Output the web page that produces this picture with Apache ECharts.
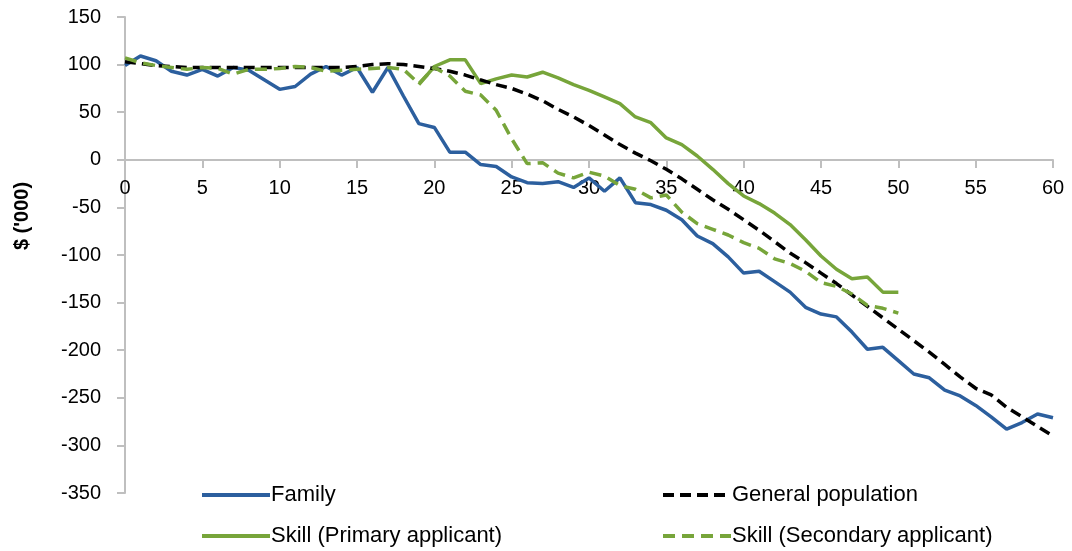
<!DOCTYPE html>
<html>
<head>
<meta charset="utf-8">
<script src="https://cdn.jsdelivr.net/npm/echarts@6/dist/echarts.min.js"></script>
<style>
html, body { margin: 0; padding: 0; background: #fff; }
#chart { width: 1072px; height: 551px; }
</style>
</head>
<body>
<div id="chart"></div>
<script>
// ages / years on x, values in $'000
let familyStart = 0
let family = [99,109,104,93,89,95,88,97,94,84,
    74,77,90,98,89,97,71,97,67,38,
    34,8,8,-5,-7,-18,-24,-25,-23,-29,
    -19,-33,-19,-45,-47,-53,-63,-80,-88,-102,
    -119,-117,-128,-139,-155,-162,-165,-181,-199,-197,
    -211,-225,-229,-242,-248,-258,-270,-283,-276,-267,-271]

let generalStart = 0
let general = [103,101,99,98,97,97,97,97,97,97,
    97,97,97,97,97,98,100,101,100,98,
    96,93,89,84,79,75,69,62,53,45,
    36,26,16,7,-1,-10,-20,-31,-42,-52,
    -63,-74,-86,-98,-108,-119,-130,-142,-154,-166,
    -178,-190,-202,-215,-228,-240,-247,-260,-270,-280,-290]

let primaryStart = 19
let primary = [79,98,105,105,80,85,89,87,92,86,
    79,73,66,59,45,39,23,16,4,-10,
    -25,-38,-46,-56,-68,-84,-101,-115,-125,-123,
    -139,-139]

let secondaryStart = 0
let secondary = [107,102,99,97,95,97,96,90,95,95,
    96,98,97,93,94,95,96,97,95,80,
    97,88,72,68,52,22,-4,-3,-14,-19,
    -13,-17,-27,-31,-40,-37,-55,-67,-73,-79,
    -87,-93,-104,-109,-117,-129,-133,-141,-153,-156,-161]

let seriesNames = ["Family", "General population", "Skill (Primary applicant)", "Skill (Secondary applicant)"]

function pairs(start, arr) {
    return arr.map(function (v, i) { return [start + i, v] })
}

let axisGrey = '#BFBFBF'
let font = 'Liberation Sans, Arial, sans-serif'
let blue = '#2C5F9E'
let green = '#77A53A'

// plot area (px) - y=0 sits 333px above the bottom edge
let gridTop = 17
let gridBottom = 58
let zeroOffset = -333

let lineChart = echarts.init(document.getElementById('chart'))

function legendAt(name, left, top) {
    return {
        data: [name],
        left: left,
        top: top,
        padding: 0,
        itemWidth: 68,
        itemHeight: 14,
        itemGap: 0,
        itemStyle: { opacity: 0 },
        lineStyle: { width: 4 },
        textStyle: { fontFamily: font, fontSize: 22, color: '#000', padding: [0, 0, 0, -4] },
    }
}

lineChart.setOption({
    animation: false,
    grid: { left: 125, right: 19, top: gridTop, bottom: gridBottom },
    legend: [
        legendAt(seriesNames[0], 200, 484),
        legendAt(seriesNames[1], 661, 484),
        legendAt(seriesNames[2], 200, 525),
        legendAt(seriesNames[3], 661, 525),
    ],
    graphic: [{
        type: 'text',
        x: 22,
        y: 216,
        rotation: Math.PI / 2,
        style: {
            text: "$ ('000)",
            fontFamily: font,
            fontSize: 20,
            fontWeight: 'bold',
            fill: '#000',
            textAlign: 'center',
            textVerticalAlign: 'middle',
        },
    }],
    xAxis: {
        type: 'value',
        min: 0,
        max: 60,
        interval: 5,
        position: 'bottom',
        offset: zeroOffset,
        axisLine: { onZero: false, lineStyle: { color: axisGrey, width: 2 } },
        axisTick: { show: true, length: 8, lineStyle: { color: axisGrey, width: 2 } },
        axisLabel: { fontFamily: font, fontSize: 20, color: '#000', margin: 18 },
        splitLine: { show: false },
    },
    yAxis: {
        type: 'value',
        min: -350,
        max: 150,
        interval: 50,
        axisLine: { show: true, lineStyle: { color: axisGrey, width: 2 } },
        axisTick: { show: true, length: 8, lineStyle: { color: axisGrey, width: 2 } },
        axisLabel: { fontFamily: font, fontSize: 20, color: '#000', margin: 24 },
        splitLine: { show: false },
    },
    series: [
        {
            name: seriesNames[0],
            type: 'line',
            data: pairs(familyStart, family),
            symbol: 'none',
            z: 2,
            lineStyle: { color: blue, width: 3.5 },
            itemStyle: { color: blue },
        },
        {
            name: seriesNames[1],
            type: 'line',
            data: pairs(generalStart, general),
            symbol: 'none',
            z: 4,
            lineStyle: { color: '#000', width: 3.5, type: [11, 6] },
            itemStyle: { color: '#000' },
        },
        {
            name: seriesNames[2],
            type: 'line',
            data: pairs(primaryStart, primary),
            symbol: 'none',
            z: 3,
            lineStyle: { color: green, width: 3.5 },
            itemStyle: { color: green },
        },
        {
            name: seriesNames[3],
            type: 'line',
            data: pairs(secondaryStart, secondary),
            symbol: 'none',
            z: 5,
            lineStyle: { color: green, width: 3.5, type: [12, 7] },
            itemStyle: { color: green },
        },
    ],
})
</script>
</body>
</html>
